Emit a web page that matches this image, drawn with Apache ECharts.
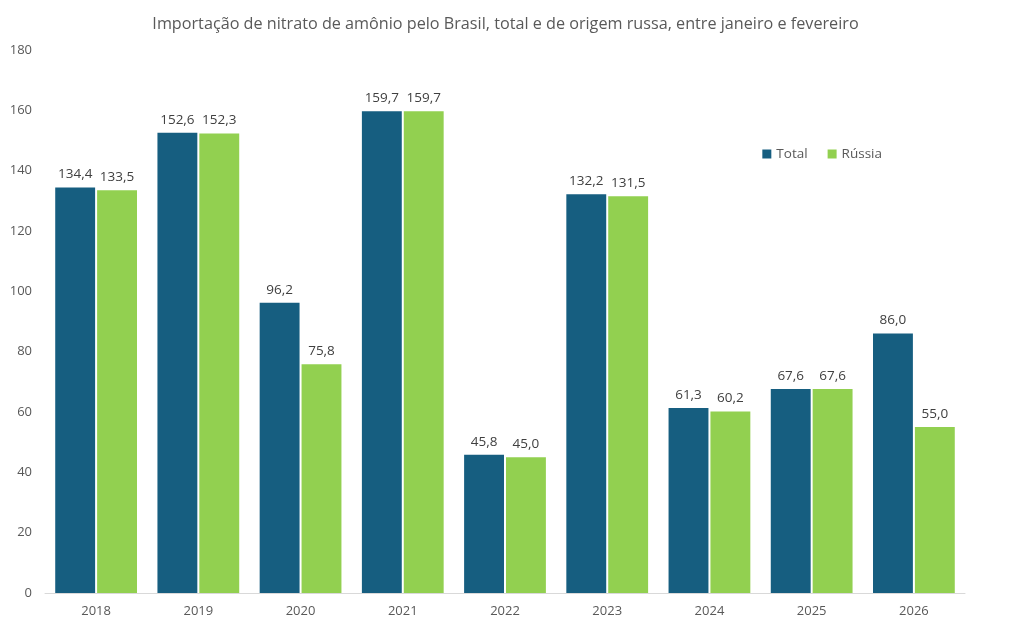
<!DOCTYPE html>
<html><head><meta charset="utf-8">
<script src="https://cdn.jsdelivr.net/npm/echarts@6/dist/echarts.min.js"></script>
<style>html,body{margin:0;padding:0;background:#fff}#c{width:1011px;height:629px}</style>
</head><body><div id="c"></div>
<script>
const categories = ['2018','2019','2020','2021','2022','2023','2024','2025','2026'];
const totalValues = [134.4,152.6,96.2,159.7,45.8,132.2,61.3,67.6,86.0];
const russiaValues = [133.5,152.3,75.8,159.7,45.0,131.5,60.2,67.6,55.0];
const yTicks = {min:0, max:180, interval:20};
const FONT = '"Open Sans", "Noto Sans", sans-serif';
const fmt = v => v.value.toFixed(1).replace('.', ',');
const chart = echarts.init(document.getElementById('c'));
const labelCfg = {show:true, position:'top', formatter:fmt, color:'#404040', fontSize:13.5, fontFamily:FONT, distance:6};
chart.setOption({
  animation:false,
  title:{text:'Importação de nitrato de amônio pelo Brasil, total e de origem russa, entre janeiro e fevereiro', left:'center', top:11,
    textStyle:{fontFamily:FONT, fontSize:16.2, fontWeight:'normal', color:'#595959'}},
  legend:{right:124, top:142, itemWidth:9, itemHeight:9, itemGap:20, icon:'rect',
    textStyle:{fontFamily:FONT, fontSize:13.5, color:'#595959'}, data:['Total','Rússia']},
  grid:{left:45, right:46, top:50, bottom:36, containLabel:false},
  xAxis:{type:'category', data:categories,
    axisLine:{lineStyle:{color:'#d9d9d9', width:1}}, axisTick:{show:false},
    axisLabel:{fontFamily:FONT, fontSize:13, color:'#595959', margin:12}},
  yAxis:{type:'value', min:yTicks.min, max:yTicks.max, interval:yTicks.interval,
    axisLine:{show:false}, axisTick:{show:false}, splitLine:{show:false},
    axisLabel:{fontFamily:FONT, fontSize:13, color:'#595959', margin:13}},
  series:[
    {name:'Total', type:'bar', data:totalValues, itemStyle:{color:'#165E80'}, barGap:'5%', barCategoryGap:'20%', label:labelCfg},
    {name:'Rússia', type:'bar', data:russiaValues, itemStyle:{color:'#92D050'}, label:labelCfg}
  ]
});
</script></body></html>
